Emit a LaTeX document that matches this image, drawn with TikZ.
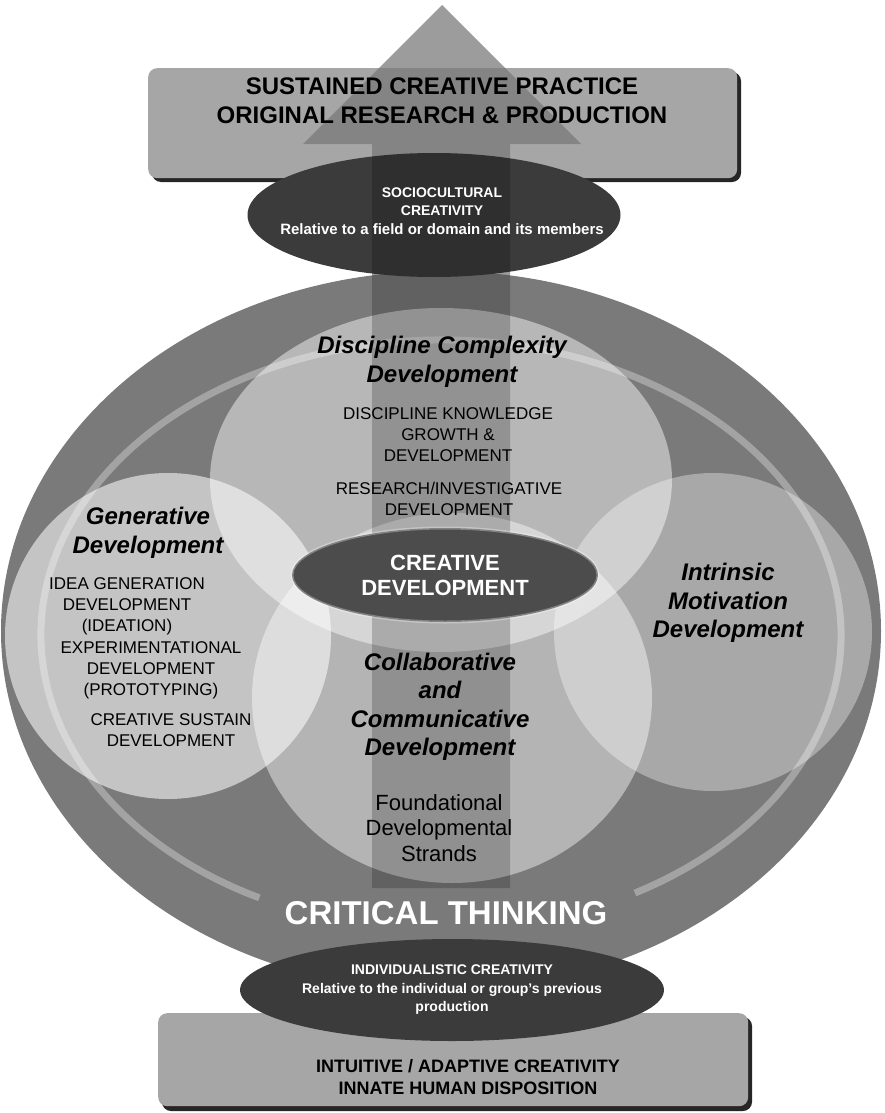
\documentclass[tikz,border=0pt]{standalone}
\usepackage{fontspec}
\setmainfont{Liberation Sans}
\usetikzlibrary{shapes.geometric}

\definecolor{rimgray}{gray}{0.48}
\definecolor{bandgray}{gray}{0.64}
\definecolor{panelgray}{gray}{0.65}
\definecolor{headgray}{gray}{0.765}
\definecolor{ovalgray}{gray}{0.23}
\definecolor{coregray}{gray}{0.30}

\tikzset{
  panel/.style={fill=panelgray, rounded corners=9pt, inner sep=0pt},
  panelshadow/.style={fill=black!85, rounded corners=9pt},
  strandcircle/.style={fill=white, fill opacity=#1},
  oval/.style={ellipse, fill=ovalgray, inner sep=0pt},
  ovaltext/.style={text=white, font=\bfseries\fontsize{14}{18.5}\selectfont, align=center, inner sep=0pt},
  heading/.style={font=\bfseries\itshape\fontsize{24}{28.5}\selectfont, align=center, inner sep=0pt},
  strand/.style={font=\fontsize{17}{21}\selectfont, align=center, inner sep=0pt},
}

\begin{document}
\begin{tikzpicture}[x=1pt, y=-1pt]
    \useasboundingbox (0,0) rectangle (884,1113);

    % arrow underneath, only its head shows above the top panel
    \fill[headgray] (372,888) -- (372,144) -- (303,144) -- (442,5) -- (581,144) -- (510,144) -- (510,888) -- cycle;

    % top panel
    \fill[panelshadow] (152,72) rectangle (741,182);
    \node[panel, minimum width=589pt, minimum height=110pt, anchor=north west] (practice) at (148,68) {};

    % outer field and its inner band (open at the bottom)
    \fill[rimgray] (441,631) ellipse [x radius=440, y radius=360];
    \draw[bandgray, line width=7pt] ([shift={(441,635)}]117:400 and 295)
        arc [start angle=117, end angle=421, x radius=400, y radius=295];

    % the four strands
    \fill[strandcircle=0.46] (441,480) ellipse [x radius=231, y radius=172];
    \fill[strandcircle=0.56] (168,636) circle [radius=163];
    \fill[strandcircle=0.35] (713,632) circle [radius=159];
    \fill[strandcircle=0.44] (452,698) ellipse [x radius=200, y radius=185];

    % sociocultural oval
    \node[oval, minimum width=373pt, minimum height=124pt] (socio) at (434,215) {};

    % arrow overlay
    \fill[black, fill opacity=0.2] (372,888) -- (372,144) -- (303,144) -- (442,5) -- (581,144) -- (510,144) -- (510,888) -- cycle;

    % centre oval
    \node[oval, fill=coregray, draw=white, draw opacity=0.3, line width=3pt,
          minimum width=306pt, minimum height=94pt, text=white,
          font=\bfseries\fontsize{22}{25}\selectfont, align=center] (core) at (445,575) {CREATIVE\\DEVELOPMENT};

    % bottom panel and individualistic oval
    \fill[panelshadow] (162,1017) rectangle (752,1111);
    \node[panel, minimum width=590pt, minimum height=93pt, anchor=north west] (intuitive) at (158,1013) {};
    \node[oval, minimum width=350pt, minimum height=102pt, ovaltext] (individual) at (452,990)
        {INDIVIDUALISTIC CREATIVITY\\Relative to the individual or group's previous\\production};

    % labels
    \node[font=\bfseries\fontsize{24}{29}\selectfont, align=center] (practicetext) at (442,101)
        {SUSTAINED CREATIVE PRACTICE\\ORIGINAL RESEARCH \& PRODUCTION};
    \node[ovaltext] (sociotext) at (442,211)
        {SOCIOCULTURAL\\CREATIVITY\\{\fontsize{15}{18.5}\selectfont Relative to a field or domain and its members}};

    \node[heading] (discipline) at (442,362) {Discipline Complexity\\Development};
    \node[strand] (knowledge) at (448,435) {DISCIPLINE KNOWLEDGE\\GROWTH \&\\DEVELOPMENT};
    \node[strand] (research) at (449,499) {RESEARCH/INVESTIGATIVE\\DEVELOPMENT};

    \node[heading] (generative) at (148,533) {Generative\\Development};
    \node[strand] (ideation) at (127,606) {IDEA GENERATION\\DEVELOPMENT\\(IDEATION)};
    \node[strand] (prototyping) at (151,670) {EXPERIMENTATIONAL\\DEVELOPMENT\\(PROTOTYPING)};
    \node[strand] (sustain) at (171,730) {CREATIVE SUSTAIN\\DEVELOPMENT};

    \node[heading] (intrinsic) at (728,603) {Intrinsic\\Motivation\\Development};
    \node[heading] (collaborative) at (440,707) {Collaborative\\and\\Communicative\\Development};
    \node[font=\fontsize{22}{25.5}\selectfont, align=center, inner sep=0pt] (foundational) at (439,828)
        {Foundational\\Developmental\\Strands};

    \node[font=\bfseries\fontsize{33}{36}\selectfont, text=white] (critical) at (446,913) {CRITICAL THINKING};

    \node[font=\bfseries\fontsize{18}{22}\selectfont, align=center] (innate) at (468,1077)
        {INTUITIVE / ADAPTIVE CREATIVITY\\INNATE HUMAN DISPOSITION};
\end{tikzpicture}
\end{document}
